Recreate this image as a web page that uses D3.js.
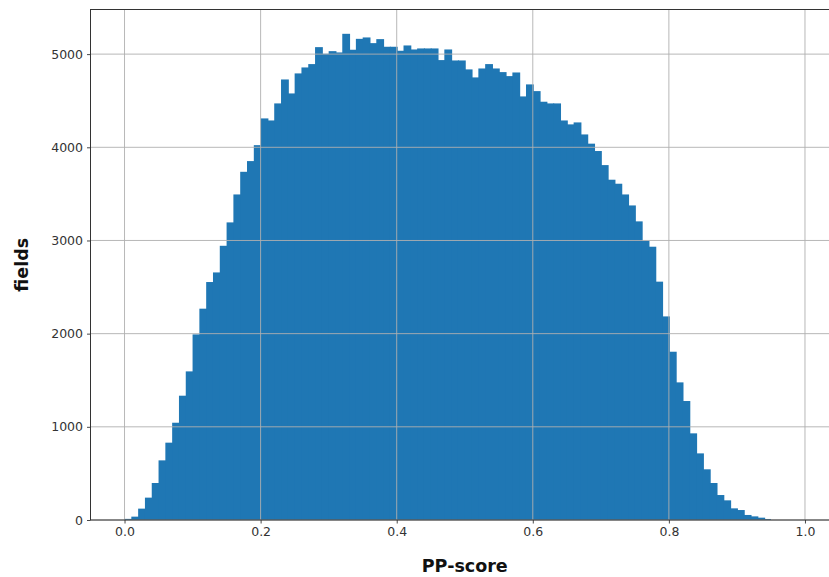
<!DOCTYPE html>
<html>
<head>
<meta charset="utf-8">
<script src="https://cdn.jsdelivr.net/npm/d3@7"></script>
<style>
  html, body { margin: 0; padding: 0; background: #fff; }
  svg { display: block; }
  text { font-family: "DejaVu Sans", sans-serif; }
</style>
</head>
<body>
<svg id="chart" width="829" height="577"></svg>
<script>
// ---- data ----
const binStart = 0.0;
const binWidth = 0.01;
const counts = [12,36,122,240,397,640,830,1044,1334,1595,1992,2268,2554,2657,2943,3194,3494,3737,3852,4023,
  4310,4288,4471,4728,4578,4793,4857,4893,5075,5004,5032,5018,5218,5047,5164,5179,5118,5161,5079,5079,
  5036,5093,5050,5061,5061,5061,4936,5050,4932,4932,4836,4750,4846,4893,4846,4807,4764,4803,4546,4675,
  4603,4489,4471,4471,4288,4246,4267,4138,4039,3960,3809,3652,3609,3494,3376,3205,2997,2933,2558,2185,
  1806,1477,1277,930,715,544,397,268,211,125,107,54,39,25,11,0,0,0,0,0];
const xTicks = [0.0, 0.2, 0.4, 0.6, 0.8, 1.0];
const yTicks = [0, 1000, 2000, 3000, 4000, 5000];
const xLabel = "PP-score";
const yLabel = "fields";

// ---- layout ----
const pL = 90.5, pR = 839, pT = 9.5, pB = 520;
const svg = d3.select("#chart");

const bins = counts.map((c, i) => ({ x0: binStart + i * binWidth, x1: binStart + (i + 1) * binWidth, c }));
const xMax = bins[bins.length - 1].x1;
const xPad = (xMax - binStart) * 0.05;
const yMax = d3.max(counts) * 1.05;

const x = d3.scaleLinear().domain([binStart - xPad, xMax + xPad]).range([pL, pR]);
const y = d3.scaleLinear().domain([0, yMax]).range([pB, pT]);

// bars (each overlaps slightly under its right neighbour to avoid seams)
svg.append("g").selectAll("rect").data(bins.filter(d => d.c > 0)).join("rect")
  .attr("x", d => x(d.x0))
  .attr("width", (d, i, n) => x(d.x1) - x(d.x0) + (i < n.length - 1 ? 1 : 0))
  .attr("y", d => y(d.c))
  .attr("height", d => y(0) - y(d.c))
  .attr("fill", "#1f77b4");

// grid (drawn above bars, like the reference)
const grid = svg.append("g").attr("stroke", "#b0b0b0").attr("stroke-width", 0.9);
grid.selectAll("line.gx").data(xTicks).join("line")
  .attr("x1", d => x(d)).attr("x2", d => x(d))
  .attr("y1", pT).attr("y2", pB);
grid.selectAll("line.gy").data(yTicks).join("line")
  .attr("x1", pL).attr("x2", pR)
  .attr("y1", d => y(d)).attr("y2", d => y(d));

// axes
const xAxis = d3.axisBottom(x).tickValues(xTicks).tickFormat(d3.format(".1f"))
  .tickSize(3.5).tickPadding(4).tickSizeOuter(0);
const yAxis = d3.axisLeft(y).tickValues(yTicks).tickFormat(d3.format("d"))
  .tickSize(3.5).tickPadding(4).tickSizeOuter(0);

const gx = svg.append("g").attr("transform", `translate(0,${pB})`).call(xAxis);
const gy = svg.append("g").attr("transform", `translate(${pL},0)`).call(yAxis);
[gx, gy].forEach(g => {
  g.select(".domain").remove();
  g.selectAll(".tick line").attr("stroke", "#333").attr("stroke-width", 0.9);
  g.selectAll(".tick text").attr("fill", "#333").style("font-size", "12.5px")
    .style("font-family", "'DejaVu Sans', sans-serif");
});

// frame
svg.append("rect")
  .attr("x", pL).attr("y", pT)
  .attr("width", pR - pL).attr("height", pB - pT)
  .attr("fill", "none").attr("stroke", "#333").attr("stroke-width", 1);

// axis labels
svg.append("text")
  .attr("x", (pL + pR) / 2).attr("y", 572)
  .attr("text-anchor", "middle")
  .style("font-size", "17.5px").style("font-weight", "bold").attr("fill", "#111")
  .text(xLabel);
svg.append("text")
  .attr("transform", `translate(28,${(pT + pB) / 2}) rotate(-90)`)
  .attr("text-anchor", "middle")
  .style("font-size", "17.5px").style("font-weight", "bold").attr("fill", "#111")
  .text(yLabel);
</script>
</body>
</html>
